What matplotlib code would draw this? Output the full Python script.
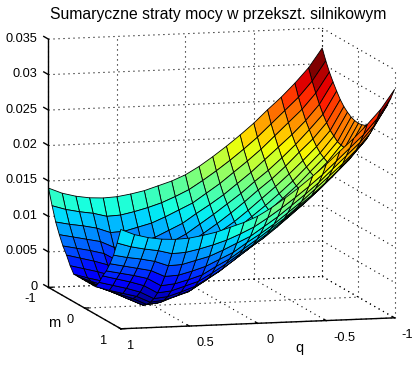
import numpy as np
import matplotlib
matplotlib.use("Agg")
import matplotlib.pyplot as plt
from mpl_toolkits.mplot3d import proj3d

plt.rcParams['font.family'] = ['Liberation Sans', 'DejaVu Sans']

title = "Sumaryczne straty mocy w przekszt. silnikowym"

q_values = [1.0, 0.9, 0.8, 0.7, 0.6, 0.5, 0.4, 0.3, 0.2, 0.1, 0.0,
            -0.1, -0.2, -0.3, -0.4, -0.5, -0.6, -0.7, -0.8, -0.9, -1.0]
m_values = [-1.0, -0.9, -0.8, -0.7, -0.6, -0.5, -0.4, -0.3, -0.2, -0.1, 0.0,
            0.1, 0.2, 0.3, 0.4, 0.5, 0.6, 0.7, 0.8, 0.9, 1.0]

# straty, w jednostkach 1e-4
# wiersze: kolejne q, kolumny: |m| = 0, 0.1, ... 1 (powierzchnia prawie symetryczna w m)
losses_half = [
    [39, 39, 39, 39, 48, 60, 70, 83, 98, 118, 140],
    [30, 30, 31, 33, 43, 55, 66, 79, 94, 112, 132],
    [21, 22, 24, 28, 38, 50, 62, 75, 91, 108, 127],
    [12, 13, 17, 23, 32, 44, 57, 71, 87, 105, 124],
    [3, 4, 8, 14, 22, 33, 46, 62, 80, 100, 123],
    [5, 6, 10, 16, 24, 35, 48, 63, 81, 101, 124],
    [12, 13, 17, 22, 30, 41, 53, 68, 86, 105, 127],
    [19, 20, 23, 29, 37, 47, 59, 74, 91, 110, 131],
    [31, 32, 35, 41, 48, 58, 70, 83, 99, 116, 137],
    [44, 45, 48, 53, 60, 70, 80, 92, 108, 124, 143],
    [58, 59, 62, 67, 74, 83, 93, 105, 117, 133, 151],
    [72, 73, 76, 81, 88, 96, 106, 117, 130, 145, 162],
    [86, 87, 90, 95, 101, 110, 120, 130, 143, 158, 175],
    [101, 102, 105, 110, 116, 125, 134, 145, 158, 172, 189],
    [117, 118, 121, 125, 132, 141, 150, 160, 173, 187, 204],
    [133, 134, 137, 141, 148, 156, 165, 177, 189, 203, 220],
    [150, 151, 154, 158, 165, 173, 182, 194, 207, 221, 238],
    [169, 170, 173, 177, 183, 192, 200, 211, 225, 239, 255],
    [188, 189, 192, 196, 202, 210, 220, 230, 243, 257, 274],
    [211, 212, 214, 219, 224, 232, 241, 252, 265, 279, 295],
    [245, 246, 248, 252, 257, 264, 273, 283, 294, 307, 322],
]

q_ticks = [1, 0.5, 0, -0.5, -1]
q_ticklabels = ["1", "0.5", "0", "-0.5", "-1"]
q_label_dx = [10, 16, 12, 18, 13]
m_ticks = [-1, 0, 1]
m_ticklabels = ["-1", "0", "1"]
m_label_dx = [-18, -15, -17]
z_ticks = [0, 0.005, 0.01, 0.015, 0.02, 0.025, 0.03, 0.035]
z_ticklabels = ["0", "0.005", "0.01", "0.015", "0.02", "0.025", "0.03", "0.035"]

half = np.array(losses_half) * 1e-4
Z = np.hstack([half[:, :0:-1], half])
Q, M = np.meshgrid(q_values, m_values, indexing='ij')

fig = plt.figure(figsize=(4.2, 3.7), dpi=100, facecolor='white')
ax = fig.add_axes([31.5 / 420, 1.5 / 370, 370 / 420, 1.0], projection='3d', computed_zorder=False)
ax.set_proj_type('ortho')
ax.set_xlim(-1, 1)
ax.set_ylim(-1, 1)
ax.set_zlim(0, 0.035)
ax.set_box_aspect((283, 283, 251), zoom=1.24)
ax.view_init(elev=8.7, azim=75.2)
ax.set_axis_off()

dotted = dict(color='black', lw=0.8, ls=(0, (1, 3.5)), zorder=1)
solid = dict(color='black', lw=1.0, zorder=3)

# siatka na scianach
for z in z_ticks:
    ax.plot([1, -1], [-1, -1], [z, z], **dotted)
    ax.plot([-1, -1], [-1, 1], [z, z], **dotted)
for q in q_ticks:
    ax.plot([q, q], [-1, -1], [0, 0.035], **dotted)
    ax.plot([q, q], [-1, 1], [0, 0], **dotted)
for m in m_ticks:
    ax.plot([-1, -1], [m, m], [0, 0.035], **dotted)
    ax.plot([1, -1], [m, m], [0, 0], **dotted)

# kolor sciany jak w surf: naroznik o nizszym q i nizszym m
Z_col = np.vstack([Z[1:], Z[-1:]])
colors = plt.cm.jet((Z_col - Z.min()) / (Z.max() - Z.min()))
ax.plot_surface(Q, M, Z, facecolors=colors, rstride=1, cstride=1, shade=False,
                edgecolor='black', linewidth=0.6, zorder=2)

# osie
ax.plot([1, 1], [-1, -1], [0, 0.035], **solid)
ax.plot([1, 1], [-1, 1], [0, 0], **solid)
ax.plot([1, -1], [1, 1], [0, 0], **solid)
for z in z_ticks:
    ax.plot([1, 1], [-1, -1.13], [z, z], **solid)
for m in m_ticks:
    ax.plot([1, 0.97], [m, m], [0, 0], **solid)
for q in q_ticks:
    ax.plot([q, q], [1, 0.95], [0, 0], **solid)


def label(q, m, z, txt, dx, dy, size=9.2):
    x, y, _ = proj3d.proj_transform(q, m, z, ax.get_proj())
    ax.annotate(txt, (x, y), xytext=(dx * 0.72, -dy * 0.72), textcoords='offset points',
                ha='center', va='center', fontsize=size, annotation_clip=False)


for z, txt in zip(z_ticks, z_ticklabels):
    x, y, _ = proj3d.proj_transform(1, -1, z, ax.get_proj())
    ax.annotate(txt, (x, y), xytext=(-11 * 0.72, 0.5 * 0.72), textcoords='offset points',
                ha='right', va='center', fontsize=9.2, annotation_clip=False)
for m, txt, dx in zip(m_ticks, m_ticklabels, m_label_dx):
    label(1, m, 0, txt, dx, 12)
for q, txt, dx in zip(q_ticks, q_ticklabels, q_label_dx):
    label(q, 1, 0, txt, dx, 17)
label(1, 0, 0, "m", -30, 15, size=10.5)
label(0, 1, 0, "q", 42, 25, size=10.5)

fig.text(218 / 420, 1 - 14 / 370, title, ha='center', va='center', fontsize=11.3)

fig.savefig("out.png", dpi=100)
